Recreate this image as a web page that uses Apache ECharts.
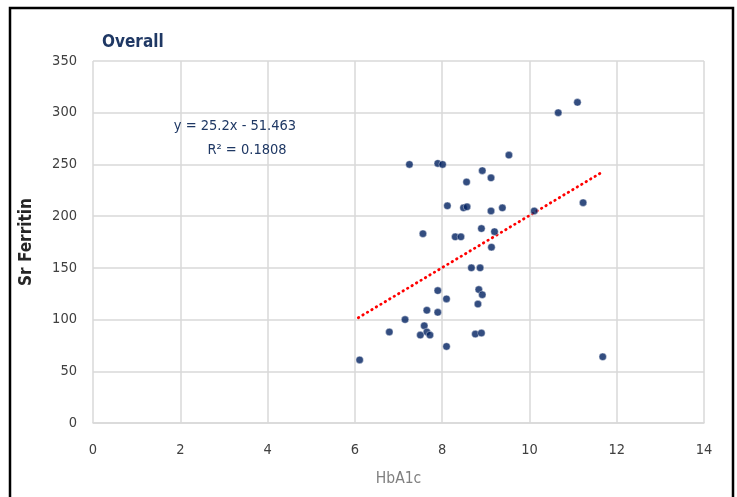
<!DOCTYPE html>
<html><head><meta charset="utf-8">
<script src="https://cdn.jsdelivr.net/npm/echarts@6/dist/echarts.min.js"></script>
<style>html,body{margin:0;padding:0;background:#fff}#c{width:737px;height:497px}</style>
</head><body><div id="c"></div>
<script>
// HbA1c values
const hba1c = [10.66, 11.10, 7.25, 7.90, 8.01, 9.53, 8.92, 9.12, 8.56, 8.12, 8.49, 8.57, 9.12, 9.38, 10.11, 11.23,
  7.56, 8.30, 8.43, 8.90, 9.20, 9.13,
  8.67, 8.87, 7.90, 8.84, 8.92, 8.10, 8.82, 7.65, 7.90, 7.15, 6.79, 7.59, 7.65, 7.72, 7.50, 8.76, 8.90, 8.10, 6.11, 11.68];
// Sr Ferritin values
const ferritin = [300, 310, 250, 251, 250, 259, 244, 237, 233, 210, 208, 209, 205, 208, 205, 213,
  183, 180, 180, 188, 185, 170,
  150, 150, 128, 129, 124, 120, 115, 109, 107, 100, 88, 94, 88, 85, 85, 86, 87, 74, 61, 64];
// Trendline endpoints
const trendX = [6.08, 11.68];
const trendY = [101.8, 242.9];
const equationLines = ["y = 25.2x - 51.463", "R² = 0.1808"];
const xTicks = [0, 2, 4, 6, 8, 10, 12, 14];
const yTicks = [0, 50, 100, 150, 200, 250, 300, 350];

const pts = hba1c.map((x, i) => [x, ferritin[i]]);
const trend = trendX.map((x, i) => [x, trendY[i]]);
const font = "'Liberation Sans Narrow', 'DejaVu Sans Condensed', 'Open Sans', sans-serif";

const chart = echarts.init(document.getElementById('c'), null, {renderer: 'canvas'});
chart.setOption({
  backgroundColor: '#fff',
  animation: false,
  title: {
    text: 'Overall', left: 97, top: 29,
    textStyle: {fontFamily: font, fontSize: 17, fontWeight: 'bold', color: '#1F3864'}
  },
  grid: {left: 93, right: 33, top: 61, bottom: 74, containLabel: false},
  xAxis: {
    type: 'value', min: xTicks[0], max: xTicks[xTicks.length - 1], interval: 2,
    name: 'HbA1c', nameLocation: 'middle', nameGap: 48,
    nameTextStyle: {fontFamily: font, fontSize: 15.5, color: '#7f7f7f'},
    axisLine: {show: true, lineStyle: {color: '#d9d9d9', width: 1.5}},
    axisTick: {show: false},
    axisLabel: {fontFamily: font, fontSize: 14.5, color: '#404040', margin: 20},
    splitLine: {show: true, lineStyle: {color: '#d9d9d9', width: 1.5}}
  },
  yAxis: {
    type: 'value', min: yTicks[0], max: yTicks[yTicks.length - 1], interval: 50,
    name: 'Sr Ferritin', nameLocation: 'middle', nameGap: 58, nameRotate: 90,
    nameTextStyle: {fontFamily: font, fontSize: 17, fontWeight: 'bold', color: '#262626'},
    axisLine: {show: false},
    axisTick: {show: false},
    axisLabel: {fontFamily: font, fontSize: 14.5, color: '#404040', margin: 16},
    splitLine: {show: true, lineStyle: {color: '#d9d9d9', width: 1.5}}
  },
  series: [
    {
      type: 'line', data: trend, showSymbol: false, symbol: 'none', silent: true,
      lineStyle: {color: '#ff0000', width: 2.8, type: [0.5, 4.7], cap: 'round'}, z: 3
    },
    {
      type: 'scatter', data: pts, symbol: 'circle', symbolSize: 7.5,
      itemStyle: {color: '#002060', borderColor: '#ffffff', borderWidth: 0.5}, z: 4
    }
  ],
  graphic: [
    {type: 'rect', shape: {x: 10, y: 8, width: 723, height: 495}, style: {fill: 'none', stroke: '#000', lineWidth: 2.5}, z: 10},
    {type: 'text', x: 235, y: 126, style: {text: equationLines[0], fontFamily: font, fontSize: 14.5, fill: '#1F3864', textAlign: 'center', textVerticalAlign: 'middle'}, z: 5},
    {type: 'text', x: 247, y: 150, style: {text: equationLines[1], fontFamily: font, fontSize: 14.5, fill: '#1F3864', textAlign: 'center', textVerticalAlign: 'middle'}, z: 5}
  ]
});
</script></body></html>
